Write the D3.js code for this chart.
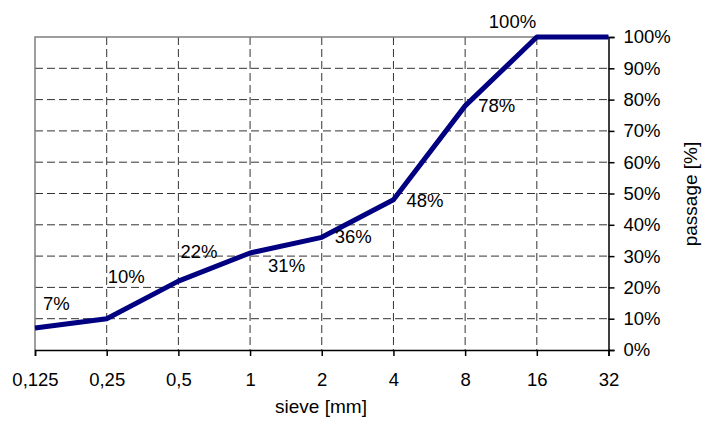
<!DOCTYPE html>
<html><head><meta charset="utf-8">
<script src="https://cdn.jsdelivr.net/npm/d3@7"></script>
<style>
body{margin:0;background:#fff;}
text{font-family:"Liberation Sans",Arial,sans-serif;fill:#000;}
</style></head>
<body><svg id="c" width="704" height="421"></svg>
<script>
const categories = ["0,125","0,25","0,5","1","2","4","8","16","32"];
const passage = [7,10,22,31,36,48,78,100,100];
const dataLabels = ["7%","10%","22%","31%","36%","48%","78%","100%",null];
const yTicks = [0,10,20,30,40,50,60,70,80,90,100];
// label offsets from their point (layout only)
const labelOffsets = [[8,-18],[1,-36],[2,-23],[18,19],[13,6],[13,7],[13,6],[-48,-9]];

const svg = d3.select("#c");
const m = {l:35, r:704-608.5, t:37, b:421-350};
const W = 704, H = 421;
const x = d3.scalePoint().domain(categories).range([m.l, W-m.r]);
const y = d3.scaleLinear().domain([0,100]).range([H-m.b, m.t]);
const fs = 18.5, tfs = 19;

// grid
const g = svg.append("g");
g.selectAll(".hg").data(yTicks.filter(d=>d>0&&d<100)).join("line")
  .attr("x1", m.l).attr("x2", W-m.r).attr("y1", d=>y(d)).attr("y2", d=>y(d))
  .attr("stroke","#333").attr("stroke-width",1).attr("stroke-dasharray","8,4");
g.selectAll(".vg").data(categories.slice(1,-1)).join("line")
  .attr("x1", d=>x(d)).attr("x2", d=>x(d)).attr("y1", m.t).attr("y2", H-m.b)
  .attr("stroke","#333").attr("stroke-width",1).attr("stroke-dasharray","8,4");

// border left/top
svg.append("path").attr("d",`M${m.l},${H-m.b}V${m.t}H${W-m.r}`)
  .attr("fill","none").attr("stroke","#7f7f7f").attr("stroke-width",1.5);

// axes
const xAxis = d3.axisBottom(x).tickSize(6).tickPadding(17);
const ax = svg.append("g").attr("transform",`translate(0,${H-m.b})`).call(xAxis);
ax.select(".domain").attr("stroke","#000").attr("stroke-width",1.5);
ax.selectAll(".tick line").attr("stroke","#000").attr("stroke-width",1.5);
ax.selectAll("text").style("font-size",fs+"px").attr("fill","#000");

const yAxis = d3.axisRight(y).tickValues(yTicks).tickFormat(d=>d+"%").tickSize(6).tickPadding(9);
const ay = svg.append("g").attr("transform",`translate(${W-m.r},0)`).call(yAxis);
ay.select(".domain").attr("stroke","#000").attr("stroke-width",1.5);
ay.selectAll(".tick line").attr("stroke","#000").attr("stroke-width",1.5);
ay.selectAll("text").style("font-size",fs+"px").attr("fill","#000");

// line
const line = d3.line().x((d,i)=>x(categories[i])).y(d=>y(d));
svg.append("path").datum(passage).attr("d",line)
  .attr("fill","none").attr("stroke","#000080").attr("stroke-width",5)
  .attr("stroke-linejoin","round");

// data labels
svg.selectAll(".dl").data(passage.map((v,i)=>({v,i})).filter(d=>dataLabels[d.i]))
  .join("text")
  .attr("x", d=>x(categories[d.i]) + labelOffsets[d.i][0])
  .attr("y", d=>y(d.v) + labelOffsets[d.i][1])
  .style("font-size",fs+"px")
  .text(d=>dataLabels[d.i]);

// titles
svg.append("text").attr("x",321).attr("y",413).attr("text-anchor","middle")
  .style("font-size",tfs+"px").text("sieve [mm]");
svg.append("text").attr("transform","translate(697,194) rotate(-90)").attr("text-anchor","middle")
  .style("font-size",tfs+"px").text("passage [%]");
</script></body></html>
